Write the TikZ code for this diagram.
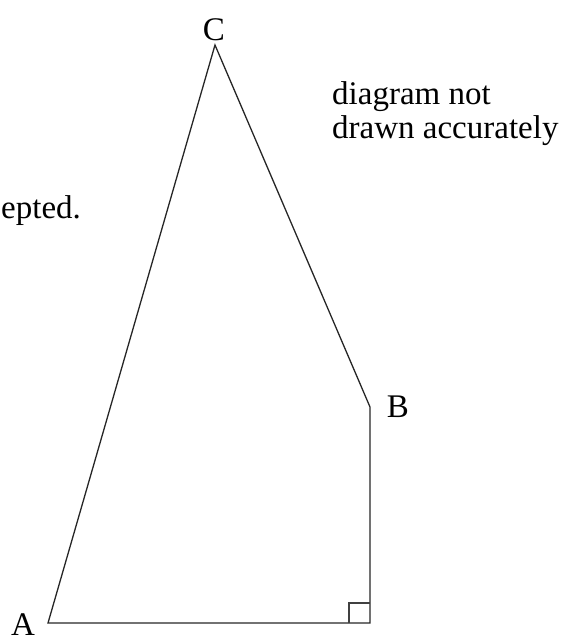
\documentclass[tikz,border=0pt]{standalone}
\usepackage{fontspec}
\setmainfont{Liberation Serif}
\usetikzlibrary{calc}

\begin{document}
\begin{tikzpicture}[x=1pt, y=-1pt,
  every node/.style={font=\fontsize{33}{34}\selectfont, inner sep=0pt},
  punt/.style={anchor=base},
  opmerking/.style={anchor=base west, align=left},
  zijde/.style={line width=1.3pt, black!85},
  hoek/.style={line width=1.8pt, black!75}
]
\useasboundingbox (0,0) rectangle (563,641);
\coordinate (A) at (48,623);
\coordinate (D) at (370,623);
\coordinate (B) at (370,407);
\coordinate (C) at (215,45);
\draw[zijde] (A) -- (D) -- (B) -- (C) -- cycle;
\draw[hoek] ($(D)+(-21,0)$) -- ($(D)+(-21,-20)$) -- ($(D)+(0,-20)$);
\node[punt] (lblA) at (23,635) {A};
\node[punt] (lblB) at (398,417) {B};
\node[punt] (lblC) at (214,40) {C};
\node[opmerking] (nota) at (332,138) {diagram not\\drawn accurately};
\node[opmerking] (rest) at (1,218) {epted.};
\end{tikzpicture}
\end{document}
